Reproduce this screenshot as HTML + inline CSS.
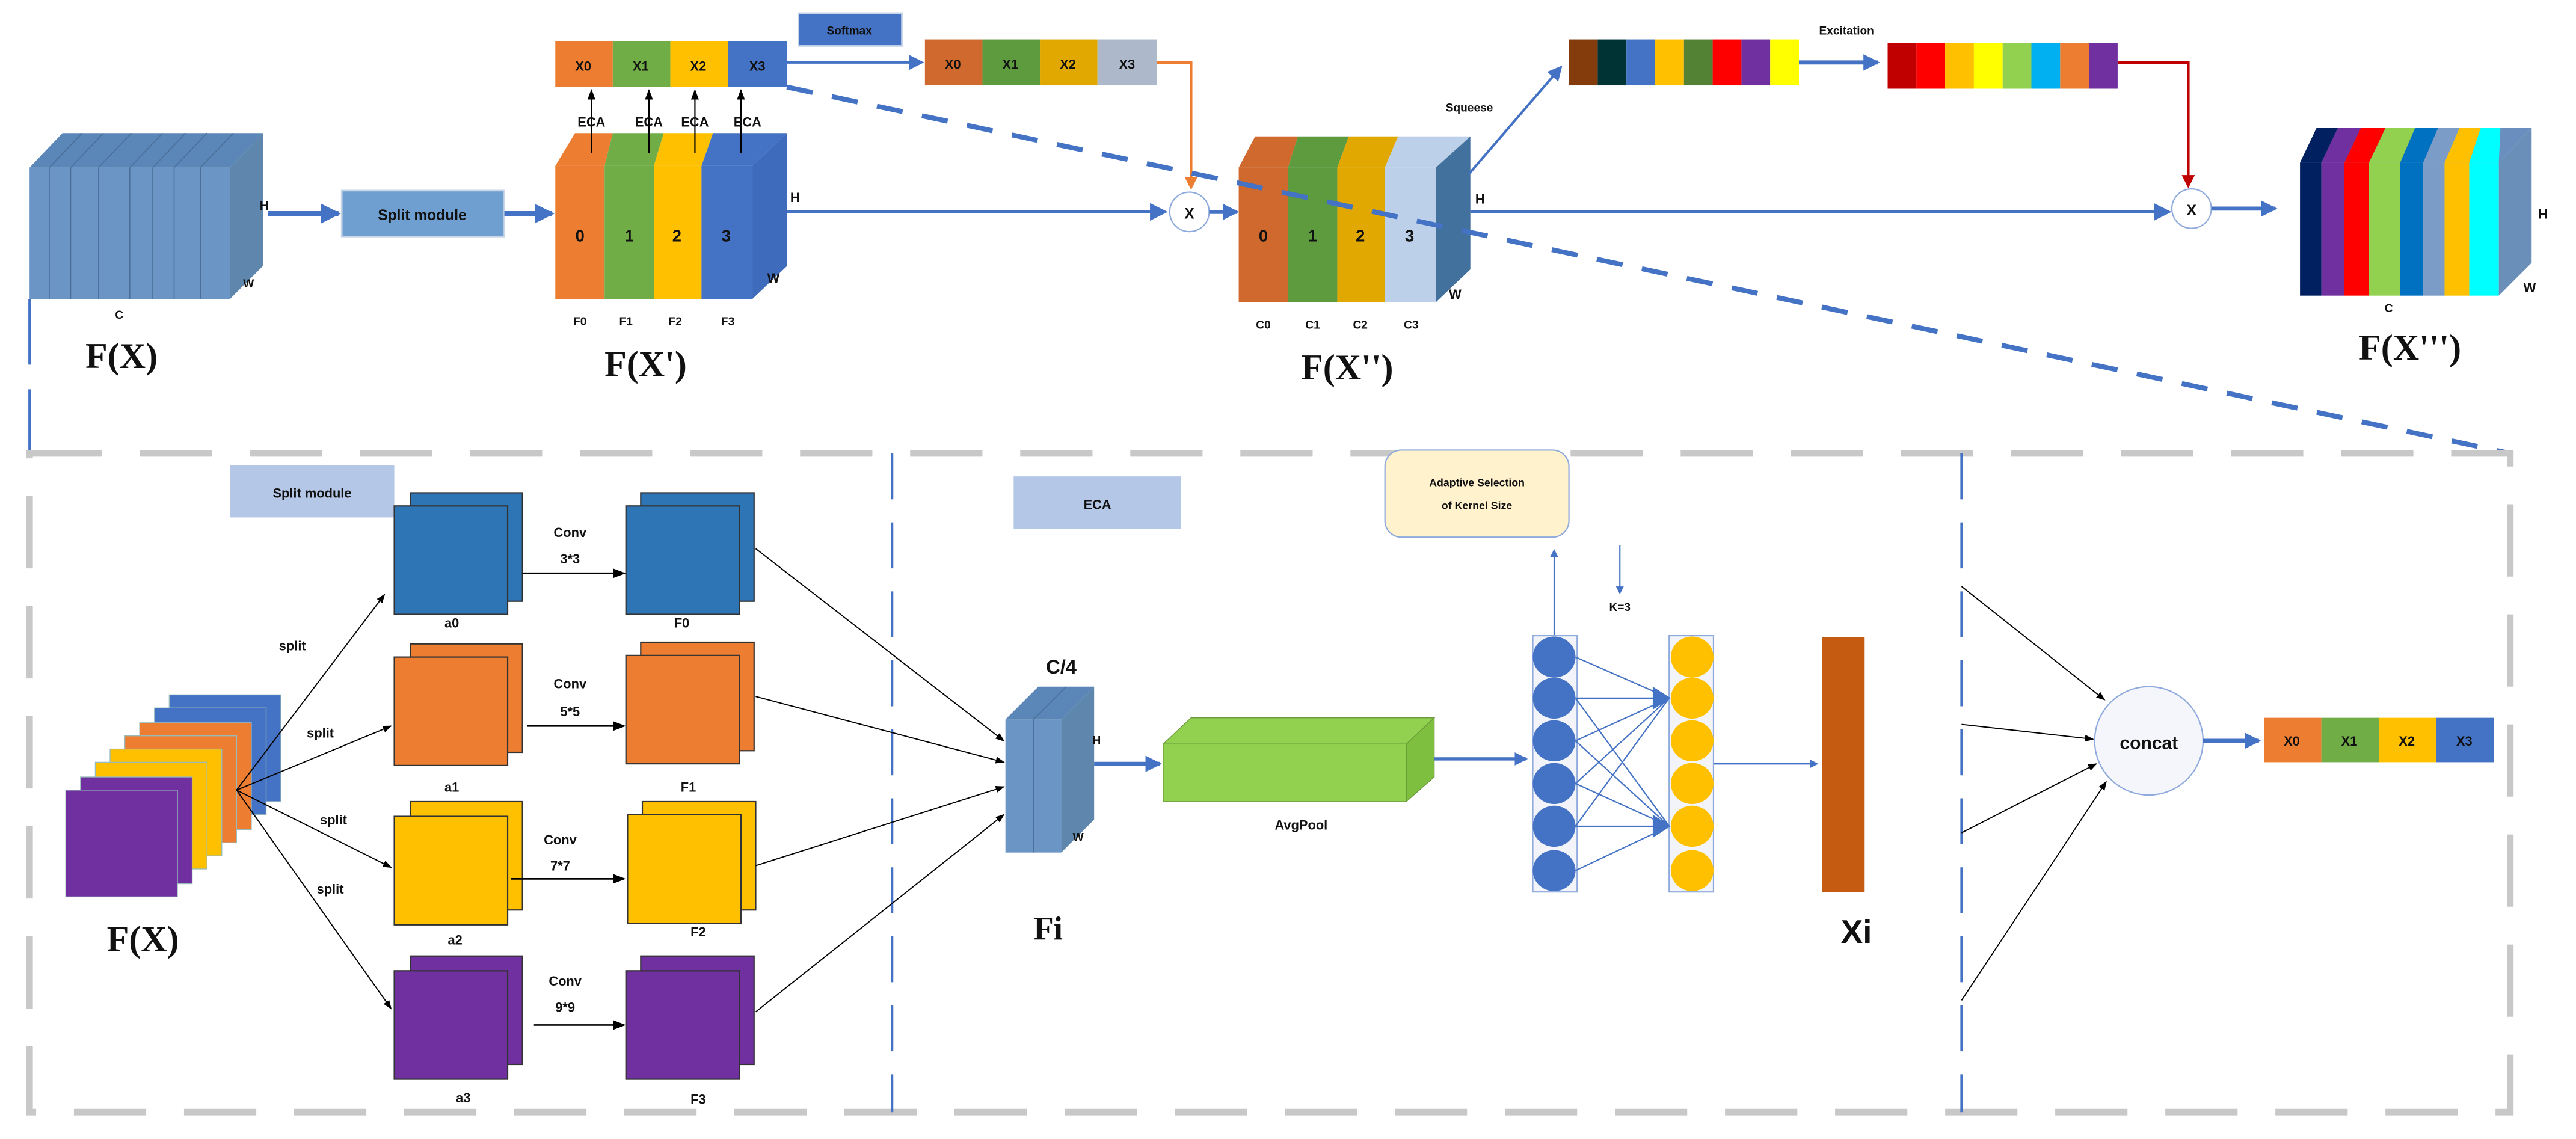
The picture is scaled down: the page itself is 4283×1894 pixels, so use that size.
<!DOCTYPE html>
<html><head><meta charset="utf-8"><style>
html,body{margin:0;padding:0;background:#fff}
svg{display:block}
text{font-family:"Liberation Sans Narrow","Liberation Sans",sans-serif;font-weight:bold;fill:#111}
.s{font-family:"Liberation Serif",serif;font-weight:bold}
</style></head><body>
<svg width="4283" height="1894" viewBox="0 0 1568 693.4" preserveAspectRatio="none" xmlns="http://www.w3.org/2000/svg">
<defs>
<marker id="ab" markerWidth="6" markerHeight="6" refX="5" refY="3" orient="auto" markerUnits="strokeWidth"><path d="M0,0 L6,3 L0,6 z" fill="#4472c4"/></marker>
<marker id="ab2" markerWidth="4" markerHeight="4" refX="3.5" refY="2" orient="auto" markerUnits="strokeWidth"><path d="M0,0 L4,2 L0,4 z" fill="#4472c4"/></marker>
<marker id="ak" markerWidth="8" markerHeight="8" refX="7" refY="4" orient="auto" markerUnits="strokeWidth"><path d="M0,1 L8,4 L0,7 z" fill="#000"/></marker>
<marker id="ao" markerWidth="5" markerHeight="5" refX="4" refY="2.5" orient="auto" markerUnits="strokeWidth"><path d="M0,0 L5,2.5 L0,5 z" fill="#ed7d31"/></marker>
<marker id="ar" markerWidth="5" markerHeight="5" refX="4" refY="2.5" orient="auto" markerUnits="strokeWidth"><path d="M0,0 L5,2.5 L0,5 z" fill="#c00000"/></marker>
</defs>

<!-- ===== TOP ===== -->
<polygon points="18,102 38,81 160,81 140,102" fill="#5b87b8"/>
<polygon points="140,102 160,81 160,162 140,182" fill="#5f86ad"/>
<rect x="18" y="102" width="122" height="80" fill="#6a95c4"/>
<g stroke="#4a6f9a" stroke-width="0.6">
<line x1="30" y1="102" x2="30" y2="182"/><line x1="43" y1="102" x2="43" y2="182"/><line x1="60" y1="102" x2="60" y2="182"/><line x1="79" y1="102" x2="79" y2="182"/><line x1="93" y1="102" x2="93" y2="182"/><line x1="106" y1="102" x2="106" y2="182"/><line x1="122" y1="102" x2="122" y2="182"/>
<line x1="30" y1="102" x2="50" y2="81"/><line x1="43" y1="102" x2="63" y2="81"/><line x1="60" y1="102" x2="80" y2="81"/><line x1="79" y1="102" x2="99" y2="81"/><line x1="93" y1="102" x2="113" y2="81"/><line x1="106" y1="102" x2="126" y2="81"/><line x1="122" y1="102" x2="142" y2="81"/>
</g>
<text x="158" y="128" font-size="8">H</text>
<text x="148" y="175" font-size="7">W</text>
<text x="70" y="194" font-size="7">C</text>
<text x="52" y="224" font-size="22" class="s">F(X)</text>

<line x1="163" y1="130" x2="206" y2="130" stroke="#4472c4" stroke-width="3" marker-end="url(#ab2)"/>
<rect x="208" y="116" width="99" height="28" fill="#6f9fd0" stroke="#c9d6e8" stroke-width="1"/>
<text x="257" y="134" font-size="9" text-anchor="middle">Split module</text>
<line x1="307" y1="130" x2="336" y2="130" stroke="#4472c4" stroke-width="3" marker-end="url(#ab2)"/>

<polygon points="338,101 350,81 373,81 368,101" fill="#ed7d31"/>
<polygon points="368,101 373,81 404,81 398,101" fill="#70ad47"/>
<polygon points="398,101 404,81 434,81 427,101" fill="#ffc000"/>
<polygon points="427,101 434,81 479,81 458,101" fill="#4472c4"/>
<polygon points="458,101 479,81 479,162 458,182" fill="#3f6bbd"/>
<rect x="338" y="101" width="30" height="81" fill="#ed7d31"/>
<rect x="368" y="101" width="30" height="81" fill="#70ad47"/>
<rect x="398" y="101" width="29" height="81" fill="#ffc000"/>
<rect x="427" y="101" width="31" height="81" fill="#4472c4"/>
<text x="353" y="147" font-size="10" text-anchor="middle">0</text>
<text x="383" y="147" font-size="10" text-anchor="middle">1</text>
<text x="412" y="147" font-size="10" text-anchor="middle">2</text>
<text x="442" y="147" font-size="10" text-anchor="middle">3</text>
<text x="481" y="123" font-size="8">H</text>
<text x="467" y="172" font-size="8">W</text>
<text x="353" y="198" font-size="7" text-anchor="middle">F0</text>
<text x="381" y="198" font-size="7" text-anchor="middle">F1</text>
<text x="411" y="198" font-size="7" text-anchor="middle">F2</text>
<text x="443" y="198" font-size="7" text-anchor="middle">F3</text>
<text x="393" y="229" font-size="22" class="s" text-anchor="middle">F(X')</text>

<g stroke="#000" stroke-width="0.8">
<line x1="360" y1="93" x2="360" y2="55" marker-end="url(#ak)"/>
<line x1="395" y1="93" x2="395" y2="55" marker-end="url(#ak)"/>
<line x1="423" y1="93" x2="423" y2="55" marker-end="url(#ak)"/>
<line x1="451" y1="93" x2="451" y2="55" marker-end="url(#ak)"/>
</g>
<text x="360" y="77" font-size="8" text-anchor="middle">ECA</text>
<text x="395" y="77" font-size="8" text-anchor="middle">ECA</text>
<text x="423" y="77" font-size="8" text-anchor="middle">ECA</text>
<text x="455" y="77" font-size="8" text-anchor="middle">ECA</text>

<rect x="338" y="25" width="35" height="28" fill="#ed7d31"/>
<rect x="373" y="25" width="35" height="28" fill="#70ad47"/>
<rect x="408" y="25" width="35" height="28" fill="#ffc000"/>
<rect x="443" y="25" width="36" height="28" fill="#4472c4"/>
<text x="355" y="43" font-size="8" text-anchor="middle">X0</text>
<text x="390" y="43" font-size="8" text-anchor="middle">X1</text>
<text x="425" y="43" font-size="8" text-anchor="middle">X2</text>
<text x="461" y="43" font-size="8" text-anchor="middle">X3</text>

<rect x="486" y="8" width="63" height="20" fill="#4472c4" stroke="#c9d6e8" stroke-width="1"/>
<text x="517" y="21" font-size="7" text-anchor="middle">Softmax</text>
<line x1="479" y1="38" x2="561" y2="38" stroke="#4472c4" stroke-width="1.5" marker-end="url(#ab)"/>

<rect x="563" y="24" width="35" height="28" fill="#d0692e"/>
<rect x="598" y="24" width="35" height="28" fill="#5e9a3e"/>
<rect x="633" y="24" width="35" height="28" fill="#e0a800"/>
<rect x="668" y="24" width="36" height="28" fill="#adb9ca"/>
<text x="580" y="42" font-size="8" text-anchor="middle">X0</text>
<text x="615" y="42" font-size="8" text-anchor="middle">X1</text>
<text x="650" y="42" font-size="8" text-anchor="middle">X2</text>
<text x="686" y="42" font-size="8" text-anchor="middle">X3</text>
<polyline points="704,38 725,38 725,114" fill="none" stroke="#ed7d31" stroke-width="1.6" marker-end="url(#ao)"/>

<line x1="479" y1="129" x2="709" y2="129" stroke="#4472c4" stroke-width="1.8" marker-end="url(#ab)"/>
<circle cx="724" cy="129" r="12" fill="#fff" stroke="#8faadc" stroke-width="0.8"/>
<text x="724" y="133" font-size="9" text-anchor="middle" font-weight="normal">X</text>
<line x1="736" y1="129" x2="753" y2="129" stroke="#4472c4" stroke-width="2.5" marker-end="url(#ab2)"/>

<polygon points="754,102 764,83 790,83 784,102" fill="#d0692e"/>
<polygon points="784,102 790,83 821,83 814,102" fill="#5e9a3e"/>
<polygon points="814,102 821,83 851,83 843,102" fill="#e0a800"/>
<polygon points="843,102 851,83 895,83 874,102" fill="#bdd0e9"/>
<polygon points="874,102 895,83 895,164 874,184" fill="#41719c"/>
<rect x="754" y="102" width="30" height="82" fill="#d0692e"/>
<rect x="784" y="102" width="30" height="82" fill="#5e9a3e"/>
<rect x="814" y="102" width="29" height="82" fill="#e0a800"/>
<rect x="843" y="102" width="31" height="82" fill="#bdd0e9"/>
<text x="769" y="147" font-size="10" text-anchor="middle">0</text>
<text x="799" y="147" font-size="10" text-anchor="middle">1</text>
<text x="828" y="147" font-size="10" text-anchor="middle">2</text>
<text x="858" y="147" font-size="10" text-anchor="middle">3</text>
<text x="898" y="124" font-size="8">H</text>
<text x="882" y="182" font-size="8">W</text>
<text x="769" y="200" font-size="7" text-anchor="middle">C0</text>
<text x="799" y="200" font-size="7" text-anchor="middle">C1</text>
<text x="828" y="200" font-size="7" text-anchor="middle">C2</text>
<text x="859" y="200" font-size="7" text-anchor="middle">C3</text>
<text x="820" y="231" font-size="22" class="s" text-anchor="middle">F(X'')</text>

<line x1="894" y1="106" x2="950" y2="41" stroke="#4472c4" stroke-width="1.5" marker-end="url(#ab)"/>
<text x="880" y="68" font-size="7">Squeese</text>
<g>
<rect x="955" y="24" width="17.5" height="28" fill="#843c0c"/>
<rect x="972.5" y="24" width="17.5" height="28" fill="#003333"/>
<rect x="990" y="24" width="17.5" height="28" fill="#4472c4"/>
<rect x="1007.5" y="24" width="17.5" height="28" fill="#ffc000"/>
<rect x="1025" y="24" width="17.5" height="28" fill="#548235"/>
<rect x="1042.5" y="24" width="17.5" height="28" fill="#ff0000"/>
<rect x="1060" y="24" width="17.5" height="28" fill="#7030a0"/>
<rect x="1077.5" y="24" width="17.5" height="28" fill="#ffff00"/>
</g>
<line x1="1095" y1="38" x2="1143" y2="38" stroke="#4472c4" stroke-width="2.5" marker-end="url(#ab2)"/>
<text x="1124" y="21" font-size="7" text-anchor="middle">Excitation</text>
<g>
<rect x="1149" y="26" width="17.5" height="28" fill="#c00000"/>
<rect x="1166.5" y="26" width="17.5" height="28" fill="#ff0000"/>
<rect x="1184" y="26" width="17.5" height="28" fill="#ffc000"/>
<rect x="1201.5" y="26" width="17.5" height="28" fill="#ffff00"/>
<rect x="1219" y="26" width="17.5" height="28" fill="#92d050"/>
<rect x="1236.5" y="26" width="17.5" height="28" fill="#00b0f0"/>
<rect x="1254" y="26" width="17.5" height="28" fill="#ed7d31"/>
<rect x="1271.5" y="26" width="17.5" height="28" fill="#7030a0"/>
</g>
<polyline points="1289,38 1332,38 1332,113" fill="none" stroke="#c00000" stroke-width="1.6" marker-end="url(#ar)"/>

<line x1="895" y1="129" x2="1320" y2="129" stroke="#4472c4" stroke-width="1.8" marker-end="url(#ab)"/>
<circle cx="1334" cy="127" r="12" fill="#fff" stroke="#8faadc" stroke-width="0.8"/>
<text x="1334" y="131" font-size="9" text-anchor="middle" font-weight="normal">X</text>
<line x1="1346" y1="127" x2="1385" y2="127" stroke="#4472c4" stroke-width="2.5" marker-end="url(#ab2)"/>

<polygon points="1400,99 1420,78 1541,78 1521,99" fill="#6a8fbf"/>
<polygon points="1521,99 1541,78 1541,160 1521,180" fill="#6a8fb8"/>
<g>
<rect x="1400" y="99" width="13" height="81" fill="#002060"/>
<rect x="1413" y="99" width="14" height="81" fill="#7030a0"/>
<rect x="1427" y="99" width="15" height="81" fill="#ff0000"/>
<rect x="1442" y="99" width="19" height="81" fill="#92d050"/>
<rect x="1461" y="99" width="14" height="81" fill="#0070c0"/>
<rect x="1475" y="99" width="13" height="81" fill="#7a9cc6"/>
<rect x="1488" y="99" width="15" height="81" fill="#ffc000"/>
<rect x="1503" y="99" width="18" height="81" fill="#00ffff"/>
<polygon points="1400,99 1410,78 1423,78 1413,99" fill="#002060"/>
<polygon points="1413,99 1423,78 1437,78 1427,99" fill="#7030a0"/>
<polygon points="1427,99 1437,78 1452,78 1442,99" fill="#ff0000"/>
<polygon points="1442,99 1452,78 1470,78 1461,99" fill="#92d050"/>
<polygon points="1461,99 1470,78 1484,78 1475,99" fill="#0070c0"/>
<polygon points="1475,99 1484,78 1497,78 1488,99" fill="#7a9cc6"/>
<polygon points="1488,99 1497,78 1510,78 1503,99" fill="#ffc000"/>
<polygon points="1503,99 1510,78 1522,78 1521,99" fill="#00ffff"/>
</g>
<text x="1545" y="133" font-size="8">H</text>
<text x="1536" y="178" font-size="8">W</text>
<text x="1454" y="190" font-size="7" text-anchor="middle">C</text>
<text x="1467" y="219" font-size="22" class="s" text-anchor="middle">F(X''')</text>

<line x1="479" y1="53" x2="1528" y2="276" stroke="#4472c4" stroke-width="3" stroke-dasharray="16,12"/>
<line x1="18" y1="182" x2="18" y2="276" stroke="#4472c4" stroke-width="1.5" stroke-dasharray="40,15"/>

<!-- ===== BOTTOM ===== -->
<rect x="18" y="276" width="1510" height="401" fill="none" stroke="#c8c8c8" stroke-width="4" stroke-dasharray="44,23"/>
<line x1="543" y1="276" x2="543" y2="677" stroke="#4472c4" stroke-width="1.5" stroke-dasharray="28,14"/>
<line x1="1194" y1="276" x2="1194" y2="677" stroke="#4472c4" stroke-width="1.5" stroke-dasharray="28,14"/>

<rect x="140" y="283" width="100" height="32" fill="#b4c7e7"/>
<text x="190" y="303" font-size="8" text-anchor="middle">Split module</text>

<g stroke="#9bb" stroke-width="0.5">
<rect x="103" y="423" width="68" height="65" fill="#4472c4"/>
<rect x="94" y="431" width="68" height="65" fill="#4472c4"/>
<rect x="85" y="440" width="68" height="65" fill="#ed7d31"/>
<rect x="76" y="448" width="68" height="65" fill="#ed7d31"/>
<rect x="67" y="456" width="68" height="65" fill="#ffc000"/>
<rect x="58" y="464" width="68" height="65" fill="#ffc000"/>
<rect x="49" y="473" width="68" height="65" fill="#7030a0"/>
<rect x="40" y="481" width="68" height="65" fill="#7030a0"/>
</g>
<text x="87" y="579" font-size="22" class="s" text-anchor="middle">F(X)</text>

<g stroke="#000" stroke-width="0.7">
<line x1="144" y1="481" x2="234" y2="362" marker-end="url(#ak)"/>
<line x1="144" y1="481" x2="238" y2="442" marker-end="url(#ak)"/>
<line x1="144" y1="481" x2="238" y2="528" marker-end="url(#ak)"/>
<line x1="144" y1="481" x2="238" y2="614" marker-end="url(#ak)"/>
</g>
<text x="178" y="396" font-size="8" text-anchor="middle">split</text>
<text x="195" y="449" font-size="8" text-anchor="middle">split</text>
<text x="203" y="502" font-size="8" text-anchor="middle">split</text>
<text x="201" y="544" font-size="8" text-anchor="middle">split</text>

<g stroke="#333" stroke-width="0.8">
<rect x="250" y="300" width="68" height="66" fill="#2e75b6"/><rect x="240" y="308" width="69" height="66" fill="#2e75b6"/>
<rect x="390" y="300" width="69" height="66" fill="#2e75b6"/><rect x="381" y="308" width="69" height="66" fill="#2e75b6"/>
<rect x="250" y="392" width="68" height="66" fill="#ed7d31"/><rect x="240" y="400" width="69" height="66" fill="#ed7d31"/>
<rect x="390" y="391" width="69" height="66" fill="#ed7d31"/><rect x="381" y="399" width="69" height="66" fill="#ed7d31"/>
<rect x="250" y="488" width="68" height="66" fill="#ffc000"/><rect x="240" y="497" width="69" height="66" fill="#ffc000"/>
<rect x="391" y="488" width="69" height="66" fill="#ffc000"/><rect x="382" y="496" width="69" height="66" fill="#ffc000"/>
<rect x="250" y="582" width="68" height="66" fill="#7030a0"/><rect x="240" y="591" width="69" height="66" fill="#7030a0"/>
<rect x="390" y="582" width="69" height="66" fill="#7030a0"/><rect x="381" y="591" width="69" height="66" fill="#7030a0"/>
</g>
<text x="275" y="382" font-size="8" text-anchor="middle">a0</text>
<text x="415" y="382" font-size="8" text-anchor="middle">F0</text>
<text x="275" y="482" font-size="8" text-anchor="middle">a1</text>
<text x="419" y="482" font-size="8" text-anchor="middle">F1</text>
<text x="277" y="575" font-size="8" text-anchor="middle">a2</text>
<text x="425" y="570" font-size="8" text-anchor="middle">F2</text>
<text x="282" y="671" font-size="8" text-anchor="middle">a3</text>
<text x="425" y="672" font-size="8" text-anchor="middle">F3</text>

<g stroke="#000" stroke-width="1">
<line x1="318" y1="349" x2="380" y2="349" marker-end="url(#ak)"/>
<line x1="321" y1="442" x2="380" y2="442" marker-end="url(#ak)"/>
<line x1="311" y1="535" x2="380" y2="535" marker-end="url(#ak)"/>
<line x1="325" y1="624" x2="380" y2="624" marker-end="url(#ak)"/>
</g>
<text x="347" y="327" font-size="8" text-anchor="middle">Conv</text><text x="347" y="343" font-size="8" text-anchor="middle">3*3</text>
<text x="347" y="419" font-size="8" text-anchor="middle">Conv</text><text x="347" y="436" font-size="8" text-anchor="middle">5*5</text>
<text x="341" y="514" font-size="8" text-anchor="middle">Conv</text><text x="341" y="530" font-size="8" text-anchor="middle">7*7</text>
<text x="344" y="600" font-size="8" text-anchor="middle">Conv</text><text x="344" y="616" font-size="8" text-anchor="middle">9*9</text>

<g stroke="#000" stroke-width="0.7">
<line x1="460" y1="334" x2="611" y2="451" marker-end="url(#ak)"/>
<line x1="460" y1="424" x2="611" y2="464" marker-end="url(#ak)"/>
<line x1="460" y1="527" x2="611" y2="479" marker-end="url(#ak)"/>
<line x1="460" y1="616" x2="611" y2="496" marker-end="url(#ak)"/>
</g>

<rect x="617" y="290" width="102" height="32" fill="#b4c7e7"/>
<text x="668" y="310" font-size="8" text-anchor="middle">ECA</text>

<polygon points="612,438 632,418 666,418 646,438" fill="#5b87b8"/>
<polygon points="646,438 666,418 666,499 646,519" fill="#5f86ad"/>
<rect x="612" y="438" width="34" height="81" fill="#6a95c4"/>
<line x1="629" y1="438" x2="629" y2="519" stroke="#4a6f9a" stroke-width="0.6"/>
<line x1="629" y1="438" x2="649" y2="418" stroke="#4a6f9a" stroke-width="0.6"/>
<text x="646" y="410" font-size="12" text-anchor="middle">C/4</text>
<text x="665" y="453" font-size="7">H</text>
<text x="653" y="512" font-size="7">W</text>
<text x="638" y="572" font-size="20" class="s" text-anchor="middle">Fi</text>
<line x1="666" y1="465" x2="706" y2="465" stroke="#4472c4" stroke-width="2.5" marker-end="url(#ab2)"/>

<polygon points="708,453 725,437 873,437 856,453" fill="#92d050" stroke="#6a9a3a" stroke-width="0.5"/>
<polygon points="856,453 873,437 873,473 856,488" fill="#7fbf3f" stroke="#6a9a3a" stroke-width="0.5"/>
<rect x="708" y="453" width="148" height="35" fill="#92d050" stroke="#6a9a3a" stroke-width="0.5"/>
<text x="792" y="505" font-size="8" text-anchor="middle">AvgPool</text>
<line x1="873" y1="462" x2="929" y2="462" stroke="#4472c4" stroke-width="2" marker-end="url(#ab2)"/>

<rect x="843" y="274" width="112" height="53" rx="10" fill="#fff2cc" stroke="#8faadc" stroke-width="0.8"/>
<text x="899" y="296" font-size="6.5" text-anchor="middle">Adaptive Selection</text>
<text x="899" y="310" font-size="6.5" text-anchor="middle">of Kernel Size</text>
<line x1="946" y1="387" x2="946" y2="335" stroke="#4472c4" stroke-width="0.8" marker-end="url(#ab)"/>
<line x1="986" y1="332" x2="986" y2="361" stroke="#4472c4" stroke-width="0.8" marker-end="url(#ab)"/>
<text x="986" y="372" font-size="7" text-anchor="middle">K=3</text>

<rect x="933" y="387" width="27" height="156" fill="#f2f4f9" stroke="#8faadc" stroke-width="0.8"/>
<rect x="1016" y="387" width="27" height="156" fill="#f2f4f9" stroke="#8faadc" stroke-width="0.8"/>
<g fill="#4472c4">
<ellipse cx="946" cy="400" rx="13" ry="12.5"/><ellipse cx="946" cy="425" rx="13" ry="12.5"/><ellipse cx="946" cy="451" rx="13" ry="12.5"/><ellipse cx="946" cy="477" rx="13" ry="12.5"/><ellipse cx="946" cy="503" rx="13" ry="12.5"/><ellipse cx="946" cy="530" rx="13" ry="12.5"/>
</g>
<g fill="#ffc000">
<ellipse cx="1030" cy="400" rx="13" ry="12.5"/><ellipse cx="1030" cy="425" rx="13" ry="12.5"/><ellipse cx="1030" cy="451" rx="13" ry="12.5"/><ellipse cx="1030" cy="477" rx="13" ry="12.5"/><ellipse cx="1030" cy="503" rx="13" ry="12.5"/><ellipse cx="1030" cy="530" rx="13" ry="12.5"/>
</g>
<g stroke="#4472c4" stroke-width="0.8">
<line x1="959" y1="400" x2="1016" y2="425"/><line x1="959" y1="425" x2="1016" y2="425"/><line x1="959" y1="451" x2="1016" y2="425"/><line x1="959" y1="477" x2="1016" y2="425"/><line x1="959" y1="503" x2="1016" y2="425"/>
<line x1="959" y1="425" x2="1016" y2="503"/><line x1="959" y1="451" x2="1016" y2="503"/><line x1="959" y1="477" x2="1016" y2="503"/><line x1="959" y1="503" x2="1016" y2="503"/><line x1="959" y1="530" x2="1016" y2="503"/>
</g>
<polygon points="1006,418 1017,425 1006,432" fill="#4472c4"/>
<polygon points="1006,496 1017,503 1006,510" fill="#4472c4"/>
<line x1="1043" y1="465" x2="1106" y2="465" stroke="#4472c4" stroke-width="0.9" marker-end="url(#ab)"/>

<rect x="1109" y="388" width="26" height="155" fill="#c55a11"/>
<text x="1130" y="574" font-size="20" text-anchor="middle" font-family="Liberation Sans">Xi</text>

<g stroke="#000" stroke-width="0.7">
<line x1="1194" y1="357" x2="1281" y2="426" marker-end="url(#ak)"/>
<line x1="1194" y1="441" x2="1274" y2="450" marker-end="url(#ak)"/>
<line x1="1194" y1="507" x2="1276" y2="465" marker-end="url(#ak)"/>
<line x1="1194" y1="609" x2="1282" y2="476" marker-end="url(#ak)"/>
</g>
<ellipse cx="1308" cy="451" rx="33" ry="33" fill="#f4f6fb" stroke="#8faadc" stroke-width="0.8"/>
<text x="1308" y="456" font-size="11" text-anchor="middle" font-weight="normal">concat</text>
<line x1="1341" y1="451" x2="1375" y2="451" stroke="#4472c4" stroke-width="2.5" marker-end="url(#ab2)"/>
<rect x="1378" y="437" width="35" height="27" fill="#ed7d31"/>
<rect x="1413" y="437" width="35" height="27" fill="#70ad47"/>
<rect x="1448" y="437" width="35" height="27" fill="#ffc000"/>
<rect x="1483" y="437" width="35" height="27" fill="#4472c4"/>
<text x="1395" y="454" font-size="8" text-anchor="middle">X0</text>
<text x="1430" y="454" font-size="8" text-anchor="middle">X1</text>
<text x="1465" y="454" font-size="8" text-anchor="middle">X2</text>
<text x="1500" y="454" font-size="8" text-anchor="middle">X3</text>
</svg>
</body></html>
